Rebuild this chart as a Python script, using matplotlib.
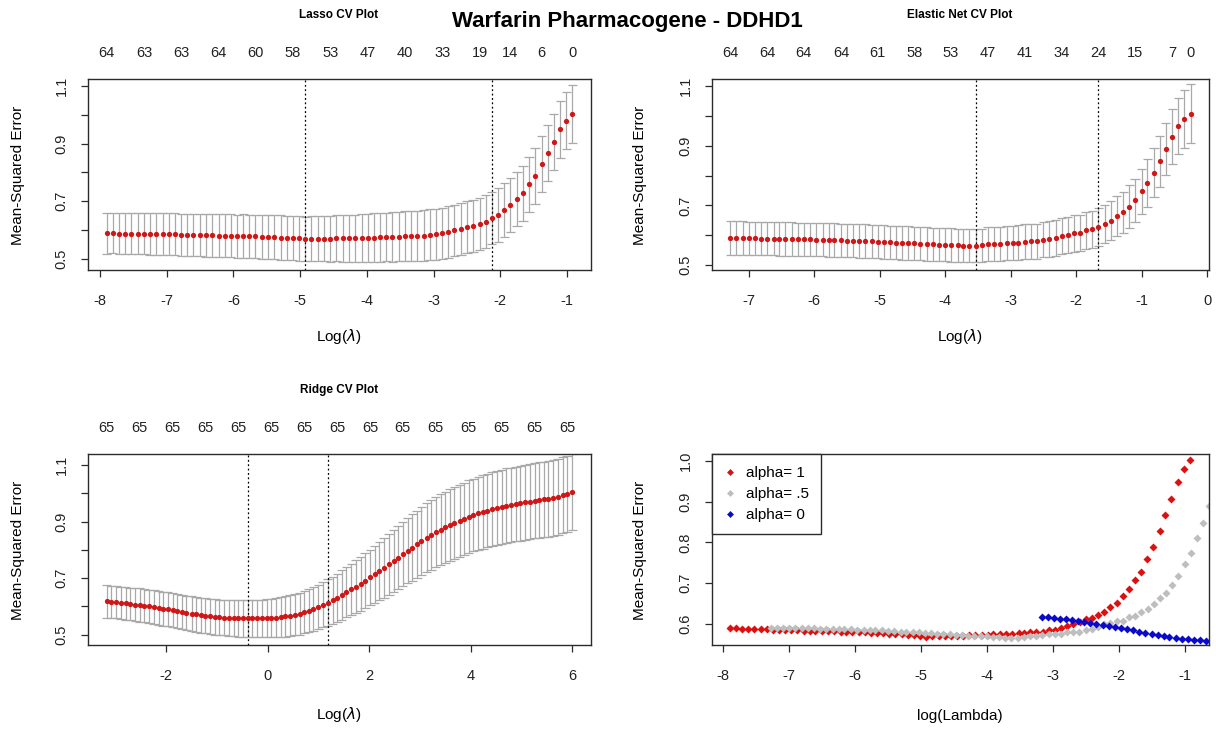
import numpy as np
import matplotlib
matplotlib.use("Agg")
from matplotlib import pyplot as plt

plt.rcParams['font.family'] = ['Liberation Sans', 'DejaVu Sans']

# ---- data ----
# lasso (alpha = 1)
lasso_loglam = [-7.90, -7.81, -7.71, -7.62, -7.53, -7.43, -7.34, -7.25, -7.16, -7.06,
                -6.97, -6.88, -6.78, -6.69, -6.60, -6.50, -6.41, -6.32, -6.22, -6.13,
                -6.04, -5.94, -5.85, -5.76, -5.67, -5.57, -5.48, -5.39, -5.29, -5.20,
                -5.11, -5.01, -4.92, -4.83, -4.73, -4.64, -4.55, -4.46, -4.36, -4.27,
                -4.18, -4.08, -3.99, -3.90, -3.80, -3.71, -3.62, -3.52, -3.43, -3.34,
                -3.25, -3.15, -3.06, -2.97, -2.87, -2.78, -2.69, -2.59, -2.50, -2.41,
                -2.31, -2.22, -2.13, -2.03, -1.94, -1.85, -1.75, -1.66, -1.57, -1.48,
                -1.38, -1.29, -1.20, -1.10, -1.01, -0.92]
lasso_mse = [0.588, 0.589, 0.586, 0.586, 0.586, 0.586, 0.586, 0.585, 0.585, 0.585,
             0.585, 0.585, 0.582, 0.582, 0.582, 0.582, 0.581, 0.581, 0.580, 0.580,
             0.579, 0.578, 0.578, 0.577, 0.577, 0.576, 0.575, 0.574, 0.573, 0.572,
             0.571, 0.570, 0.567, 0.569, 0.569, 0.569, 0.569, 0.570, 0.570, 0.571,
             0.571, 0.571, 0.572, 0.573, 0.574, 0.575, 0.575, 0.576, 0.577, 0.578,
             0.579, 0.580, 0.583, 0.585, 0.588, 0.593, 0.598, 0.603, 0.610, 0.614,
             0.620, 0.628, 0.641, 0.651, 0.669, 0.686, 0.707, 0.727, 0.758, 0.788,
             0.828, 0.867, 0.906, 0.950, 0.980, 1.003]
lasso_sd = [0.071, 0.071, 0.071, 0.071, 0.071, 0.072, 0.072, 0.072, 0.072, 0.072,
            0.072, 0.073, 0.073, 0.073, 0.073, 0.074, 0.074, 0.074, 0.075, 0.075,
            0.075, 0.075, 0.076, 0.076, 0.076, 0.076, 0.077, 0.077, 0.077, 0.077,
            0.077, 0.077, 0.077, 0.078, 0.078, 0.079, 0.080, 0.080, 0.081, 0.082,
            0.082, 0.083, 0.084, 0.084, 0.085, 0.085, 0.086, 0.086, 0.087, 0.087,
            0.088, 0.088, 0.088, 0.089, 0.089, 0.090, 0.090, 0.090, 0.091, 0.091,
            0.091, 0.092, 0.092, 0.093, 0.093, 0.094, 0.094, 0.095, 0.096, 0.097,
            0.097, 0.098, 0.098, 0.099, 0.100, 0.100]
lasso_nz_idx = [0, 6, 12, 18, 24, 30, 36, 42, 48, 54, 60, 65, 70, 75]
lasso_nz = ['64', '63', '63', '64', '60', '58', '53', '47', '40', '33', '19', '14', '6', '0']
lasso_min_idx, lasso_1se_idx = 32, 62

# elastic net (alpha = .5)
en_loglam = [-7.28, -7.19, -7.09, -7.00, -6.91, -6.81, -6.72, -6.62, -6.53, -6.44,
             -6.34, -6.25, -6.16, -6.06, -5.97, -5.87, -5.78, -5.69, -5.59, -5.50,
             -5.41, -5.31, -5.22, -5.12, -5.03, -4.94, -4.84, -4.75, -4.66, -4.56,
             -4.47, -4.38, -4.28, -4.19, -4.09, -4.00, -3.91, -3.81, -3.72, -3.63,
             -3.53, -3.44, -3.35, -3.25, -3.16, -3.06, -2.97, -2.88, -2.78, -2.69,
             -2.60, -2.50, -2.41, -2.31, -2.22, -2.13, -2.03, -1.94, -1.85, -1.75,
             -1.66, -1.56, -1.47, -1.38, -1.28, -1.19, -1.10, -1.00, -0.91, -0.81,
             -0.72, -0.63, -0.53, -0.44, -0.35, -0.25]
en_mse = [0.590, 0.590, 0.590, 0.589, 0.589, 0.588, 0.588, 0.588, 0.587, 0.587,
          0.587, 0.586, 0.586, 0.586, 0.585, 0.585, 0.584, 0.584, 0.583, 0.582,
          0.581, 0.580, 0.580, 0.579, 0.578, 0.577, 0.576, 0.575, 0.574, 0.573,
          0.572, 0.571, 0.570, 0.569, 0.568, 0.568, 0.567, 0.566, 0.565, 0.565,
          0.565, 0.566, 0.570, 0.570, 0.571, 0.573, 0.574, 0.575, 0.578, 0.579,
          0.580, 0.584, 0.587, 0.591, 0.598, 0.601, 0.606, 0.607, 0.616, 0.619,
          0.628, 0.637, 0.649, 0.663, 0.676, 0.696, 0.717, 0.747, 0.775, 0.810,
          0.848, 0.890, 0.931, 0.965, 0.991, 1.008]
en_sd = [0.056, 0.056, 0.056, 0.056, 0.056, 0.056, 0.056, 0.056, 0.056, 0.056,
         0.056, 0.056, 0.056, 0.056, 0.056, 0.056, 0.056, 0.056, 0.056, 0.056,
         0.056, 0.056, 0.056, 0.056, 0.056, 0.056, 0.056, 0.056, 0.056, 0.056,
         0.056, 0.056, 0.056, 0.056, 0.056, 0.056, 0.056, 0.056, 0.056, 0.056,
         0.056, 0.056, 0.057, 0.057, 0.057, 0.057, 0.058, 0.058, 0.058, 0.058,
         0.059, 0.059, 0.059, 0.060, 0.060, 0.060, 0.061, 0.061, 0.062, 0.062,
         0.063, 0.064, 0.065, 0.067, 0.069, 0.071, 0.073, 0.076, 0.079, 0.082,
         0.085, 0.088, 0.091, 0.094, 0.097, 0.100]
en_nz_idx = [0, 6, 12, 18, 24, 30, 36, 42, 48, 54, 60, 66, 72, 75]
en_nz = ['64', '64', '64', '64', '61', '58', '53', '47', '41', '34', '24', '15', '7', '0']
en_min_idx, en_1se_idx = 40, 60

# ridge (alpha = 0)
ridge_loglam = [-3.17, -3.08, -2.98, -2.89, -2.80, -2.71, -2.61, -2.52, -2.43, -2.34,
                -2.24, -2.15, -2.06, -1.97, -1.87, -1.78, -1.69, -1.60, -1.50, -1.41,
                -1.32, -1.23, -1.13, -1.04, -0.95, -0.86, -0.76, -0.67, -0.58, -0.49,
                -0.39, -0.30, -0.21, -0.11, -0.02, 0.07, 0.16, 0.26, 0.35, 0.44,
                0.53, 0.63, 0.72, 0.81, 0.90, 1.00, 1.09, 1.18, 1.28, 1.37,
                1.46, 1.55, 1.65, 1.74, 1.83, 1.92, 2.02, 2.11, 2.20, 2.29,
                2.39, 2.48, 2.57, 2.66, 2.76, 2.85, 2.94, 3.03, 3.13, 3.22,
                3.31, 3.41, 3.50, 3.59, 3.68, 3.78, 3.87, 3.96, 4.05, 4.15,
                4.24, 4.33, 4.42, 4.52, 4.61, 4.70, 4.79, 4.89, 4.98, 5.07,
                5.16, 5.26, 5.35, 5.44, 5.53, 5.63, 5.72, 5.81, 5.90, 6.00]
ridge_mse = [0.617, 0.616, 0.614, 0.612, 0.610, 0.608, 0.606, 0.604, 0.602, 0.600,
             0.597, 0.595, 0.592, 0.589, 0.586, 0.583, 0.580, 0.577, 0.574, 0.572,
             0.569, 0.567, 0.565, 0.563, 0.561, 0.560, 0.559, 0.558, 0.557, 0.557,
             0.557, 0.557, 0.557, 0.558, 0.558, 0.559, 0.560, 0.562, 0.564, 0.567,
             0.570, 0.574, 0.579, 0.585, 0.591, 0.598, 0.605, 0.613, 0.622, 0.631,
             0.640, 0.650, 0.660, 0.670, 0.680, 0.691, 0.702, 0.713, 0.724, 0.736,
             0.748, 0.760, 0.772, 0.784, 0.796, 0.808, 0.820, 0.831, 0.842, 0.852,
             0.862, 0.871, 0.880, 0.888, 0.896, 0.903, 0.910, 0.917, 0.923, 0.929,
             0.934, 0.939, 0.944, 0.948, 0.952, 0.956, 0.959, 0.962, 0.965, 0.968,
             0.970, 0.973, 0.975, 0.978, 0.981, 0.984, 0.988, 0.993, 0.998, 1.005]
ridge_sd = [0.057, 0.057, 0.057, 0.058, 0.058, 0.058, 0.058, 0.059, 0.059, 0.059,
            0.059, 0.060, 0.060, 0.060, 0.060, 0.061, 0.061, 0.061, 0.061, 0.062,
            0.062, 0.062, 0.062, 0.063, 0.063, 0.063, 0.063, 0.064, 0.064, 0.064,
            0.065, 0.065, 0.066, 0.066, 0.067, 0.068, 0.069, 0.070, 0.071, 0.072,
            0.073, 0.074, 0.075, 0.076, 0.077, 0.079, 0.080, 0.082, 0.083, 0.085,
            0.087, 0.089, 0.091, 0.093, 0.095, 0.097, 0.099, 0.101, 0.103, 0.105,
            0.107, 0.109, 0.111, 0.113, 0.115, 0.117, 0.119, 0.121, 0.122, 0.123,
            0.124, 0.125, 0.126, 0.127, 0.127, 0.128, 0.128, 0.129, 0.129, 0.130,
            0.130, 0.130, 0.131, 0.131, 0.131, 0.132, 0.132, 0.132, 0.133, 0.133,
            0.133, 0.133, 0.134, 0.134, 0.134, 0.134, 0.135, 0.135, 0.135, 0.135]
ridge_nz_idx = [0, 7, 14, 21, 28, 35, 42, 49, 56, 63, 70, 77, 84, 91, 98]
ridge_nz = ['65'] * 15
ridge_min_idx, ridge_1se_idx = 30, 47

W, H = 1216, 731
fig = plt.figure(figsize=(W / 100, H / 100), dpi=100)

RED = '#d01616'
BAR = '#a9a9a9'
BOX = '#2b2b2b'
FS = 10.5


def px_axes(l, t, r, b):
    return fig.add_axes([l / W, 1 - b / H, (r - l) / W, (b - t) / H])


def ftext(x, y, s, **kw):
    fig.text(x / W, 1 - y / H, s, **kw)


def style(ax, xticks, yticks, ylabels):
    for sp in ax.spines.values():
        sp.set_color(BOX)
        sp.set_linewidth(1.0)
    ax.set_xticks(xticks)
    ax.set_xticklabels([str(v) for v in xticks])
    ax.set_yticks(yticks)
    ax.set_yticklabels(ylabels, rotation=90, va='center')
    ax.tick_params(axis='both', length=5, width=0.9, color=BOX, labelsize=FS,
                   labelcolor='#222222')
    ax.tick_params(axis='x', pad=12)
    ax.tick_params(axis='y', pad=9)


def cv_panel(ax, loglam, mse, sd, nz_idx, nz, min_idx, se_idx, xlim, ylim):
    x = np.array(loglam)
    m = np.array(mse)
    s = np.array(sd)
    barw = (x.max() - x.min()) * 0.01
    ax.vlines(x, m - s, m + s, color=BAR, lw=0.9, zorder=1)
    ax.hlines(m + s, x - barw, x + barw, color=BAR, lw=0.9, zorder=1)
    ax.hlines(m - s, x - barw, x + barw, color=BAR, lw=0.9, zorder=1)
    ax.plot(x, m, 'o', color=RED, ms=3.8, mec='none', zorder=3)
    for i in (min_idx, se_idx):
        ax.axvline(x[i], color='black', lw=0.9, ls=(0, (1.5, 2)), zorder=2)
    ax.set_xlim(*xlim)
    ax.set_ylim(*ylim)
    top = ax.twiny()
    top.set_xlim(*xlim)
    top.set_xticks(x[nz_idx])
    top.set_xticklabels(nz)
    top.tick_params(axis='x', length=0, pad=14, labelsize=FS, labelcolor='#222222')
    for sp in top.spines.values():
        sp.set_visible(False)


cv_y = [0.5, 0.6, 0.7, 0.8, 0.9, 1.0, 1.1]
cv_ylab = ['0.5', '', '0.7', '', '0.9', '', '1.1']

# Lasso
ax1 = px_axes(88, 79, 591, 270)
cv_panel(ax1, lasso_loglam, lasso_mse, lasso_sd, lasso_nz_idx, lasso_nz,
         lasso_min_idx, lasso_1se_idx, (-8.18, -0.64), (0.46, 1.125))
style(ax1, [-8, -7, -6, -5, -4, -3, -2, -1], cv_y, cv_ylab)

# Elastic net
ax2 = px_axes(712, 79, 1209, 270)
cv_panel(ax2, en_loglam, en_mse, en_sd, en_nz_idx, en_nz,
         en_min_idx, en_1se_idx, (-7.56, 0.03), (0.483, 1.124))
style(ax2, [-7, -6, -5, -4, -3, -2, -1, 0], cv_y, cv_ylab)

# Ridge
ax3 = px_axes(88, 454, 591, 645)
cv_panel(ax3, ridge_loglam, ridge_mse, ridge_sd, ridge_nz_idx, ridge_nz,
         ridge_min_idx, ridge_1se_idx, (-3.54, 6.37), (0.463, 1.139))
style(ax3, [-2, 0, 2, 4, 6], cv_y, cv_ylab)

# comparison
ax4 = px_axes(712, 454, 1209, 645)
ax4.plot(lasso_loglam, lasso_mse, 'D', color='#dd1010', ms=4.4, mec='none', label='alpha= 1')
ax4.plot(en_loglam, en_mse, 'D', color='#bebebe', ms=4.4, mec='none', label='alpha= .5')
ax4.plot(ridge_loglam, ridge_mse, 'D', color='#0a0ac8', ms=4.4, mec='none', label='alpha= 0')
ax4.set_xlim(-8.17, -0.63)
ax4.set_ylim(0.547, 1.018)
style(ax4, [-8, -7, -6, -5, -4, -3, -2, -1], [0.6, 0.7, 0.8, 0.9, 1.0],
      ['0.6', '0.7', '0.8', '0.9', '1.0'])
leg = ax4.legend(loc='upper left', borderaxespad=0, fancybox=False, framealpha=1,
                 edgecolor=BOX, fontsize=FS + 0.5, handlelength=0.8, handletextpad=0.6,
                 borderpad=0.8, labelspacing=0.45, markerscale=0.8)
leg.get_frame().set_linewidth(1.0)

# titles and labels
ftext(627, 22, 'Warfarin Pharmacogene - DDHD1', ha='center', va='center',
      fontsize=16, fontweight='bold')
ftext(339, 15, 'Lasso CV Plot', ha='center', va='center', fontsize=8.5, fontweight='bold')
ftext(960, 15, 'Elastic Net CV Plot', ha='center', va='center', fontsize=8.5, fontweight='bold')
ftext(339, 390, 'Ridge CV Plot', ha='center', va='center', fontsize=8.5, fontweight='bold')

ftext(339, 337, r'Log($\lambda$)', ha='center', va='center', fontsize=FS + 0.5)
ftext(960, 337, r'Log($\lambda$)', ha='center', va='center', fontsize=FS + 0.5)
ftext(339, 714, r'Log($\lambda$)', ha='center', va='center', fontsize=FS + 0.5)
ftext(960, 716, 'log(Lambda)', ha='center', va='center', fontsize=FS + 0.5)

for xx, yc in [(18, 175), (640, 175), (18, 550), (640, 550)]:
    ftext(xx, yc, 'Mean-Squared Error', ha='center', va='center', rotation=90,
          fontsize=FS + 0.5)

fig.savefig('out.png', dpi=100)
